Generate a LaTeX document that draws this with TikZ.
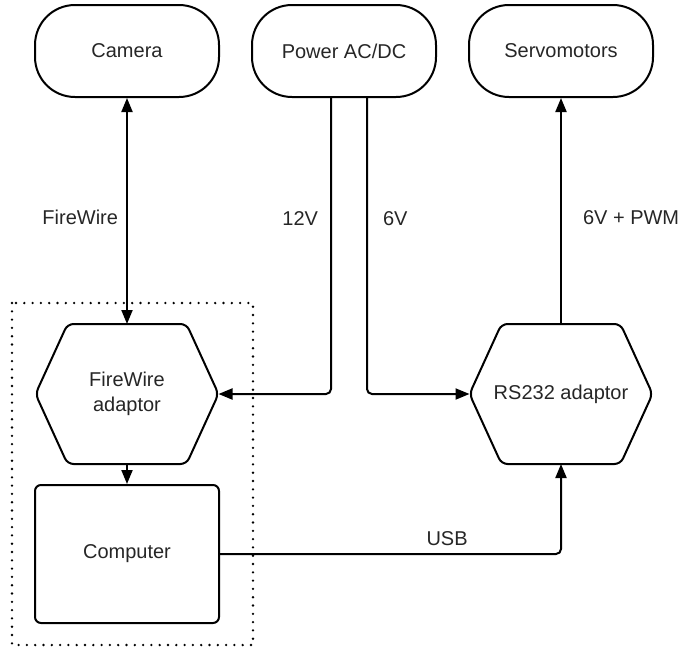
\documentclass[tikz,border=0pt]{standalone}
\usepackage{fontspec}
\setmainfont{Liberation Sans}
\usetikzlibrary{arrows.meta,calc}
\begin{document}
\begin{tikzpicture}[x=1pt,y=-1pt,
  line width=2pt,
  every node/.style={font=\fontsize{20}{25}\selectfont, text=black!85},
  pill/.style={draw, rounded corners=40pt, minimum width=184pt, minimum height=92pt},
  hexbox/.style={minimum width=181pt, minimum height=138pt, align=center},
  compbox/.style={draw, rounded corners=6pt, minimum width=184pt, minimum height=138pt},
  tip/.tip={Triangle[length=14pt,width=11pt]},
  conn/.style={-tip, rounded corners=5pt},
  lbl/.style={inner sep=0pt},
  groupbox/.style={line width=2.6pt, dash pattern=on 0pt off 8.3pt, line cap=round}
]
\useasboundingbox (0,0) rectangle (679,648);

% top row
\node[pill] (cam) at (127,51) {Camera};
\node[pill] (pow) at (344,51) {Power AC/DC};
\node[pill] (srv) at (561,51) {Servomotors};

% adaptors (hexagons drawn around invisible boxes)
\node[hexbox] (fwa) at (127,394) {FireWire\\adaptor};
\node[hexbox] (rsa) at (561,394) {RS232 adaptor};
\foreach \h in {fwa,rsa}
  \draw[rounded corners=6pt] (\h.west) -- ([xshift=32pt]\h.north west)
    -- ([xshift=-32pt]\h.north east) -- (\h.east)
    -- ([xshift=-32pt]\h.south east) -- ([xshift=32pt]\h.south west) -- cycle;

% computer
\node[compbox] (cmp) at (127,554) {Computer};

% group around the computer side
\draw[groupbox] (12,303) rectangle (253,645);

% connectors
\draw[tip-tip] (cam.south) -- node[lbl, pos=0.53, anchor=east, xshift=-8pt] {FireWire} (fwa.north);
\draw[conn] ([xshift=-13pt]pow.south) |- node[lbl, pos=0.204, anchor=east, xshift=-12pt] {12V} (fwa.east);
\draw[conn] ([xshift=23pt]pow.south) |- node[lbl, pos=0.204, anchor=west, xshift=15pt] {6V} (rsa.west);
\draw[conn] (rsa.north) -- node[lbl, pos=0.47, anchor=west, xshift=21pt] {6V + PWM} (srv.south);
\draw[conn] (fwa.south) -- (cmp.north);
\draw[conn] (cmp.east) -| node[lbl, pos=0.333, anchor=south, yshift=7pt] {USB} (rsa.south);
\end{tikzpicture}
\end{document}
